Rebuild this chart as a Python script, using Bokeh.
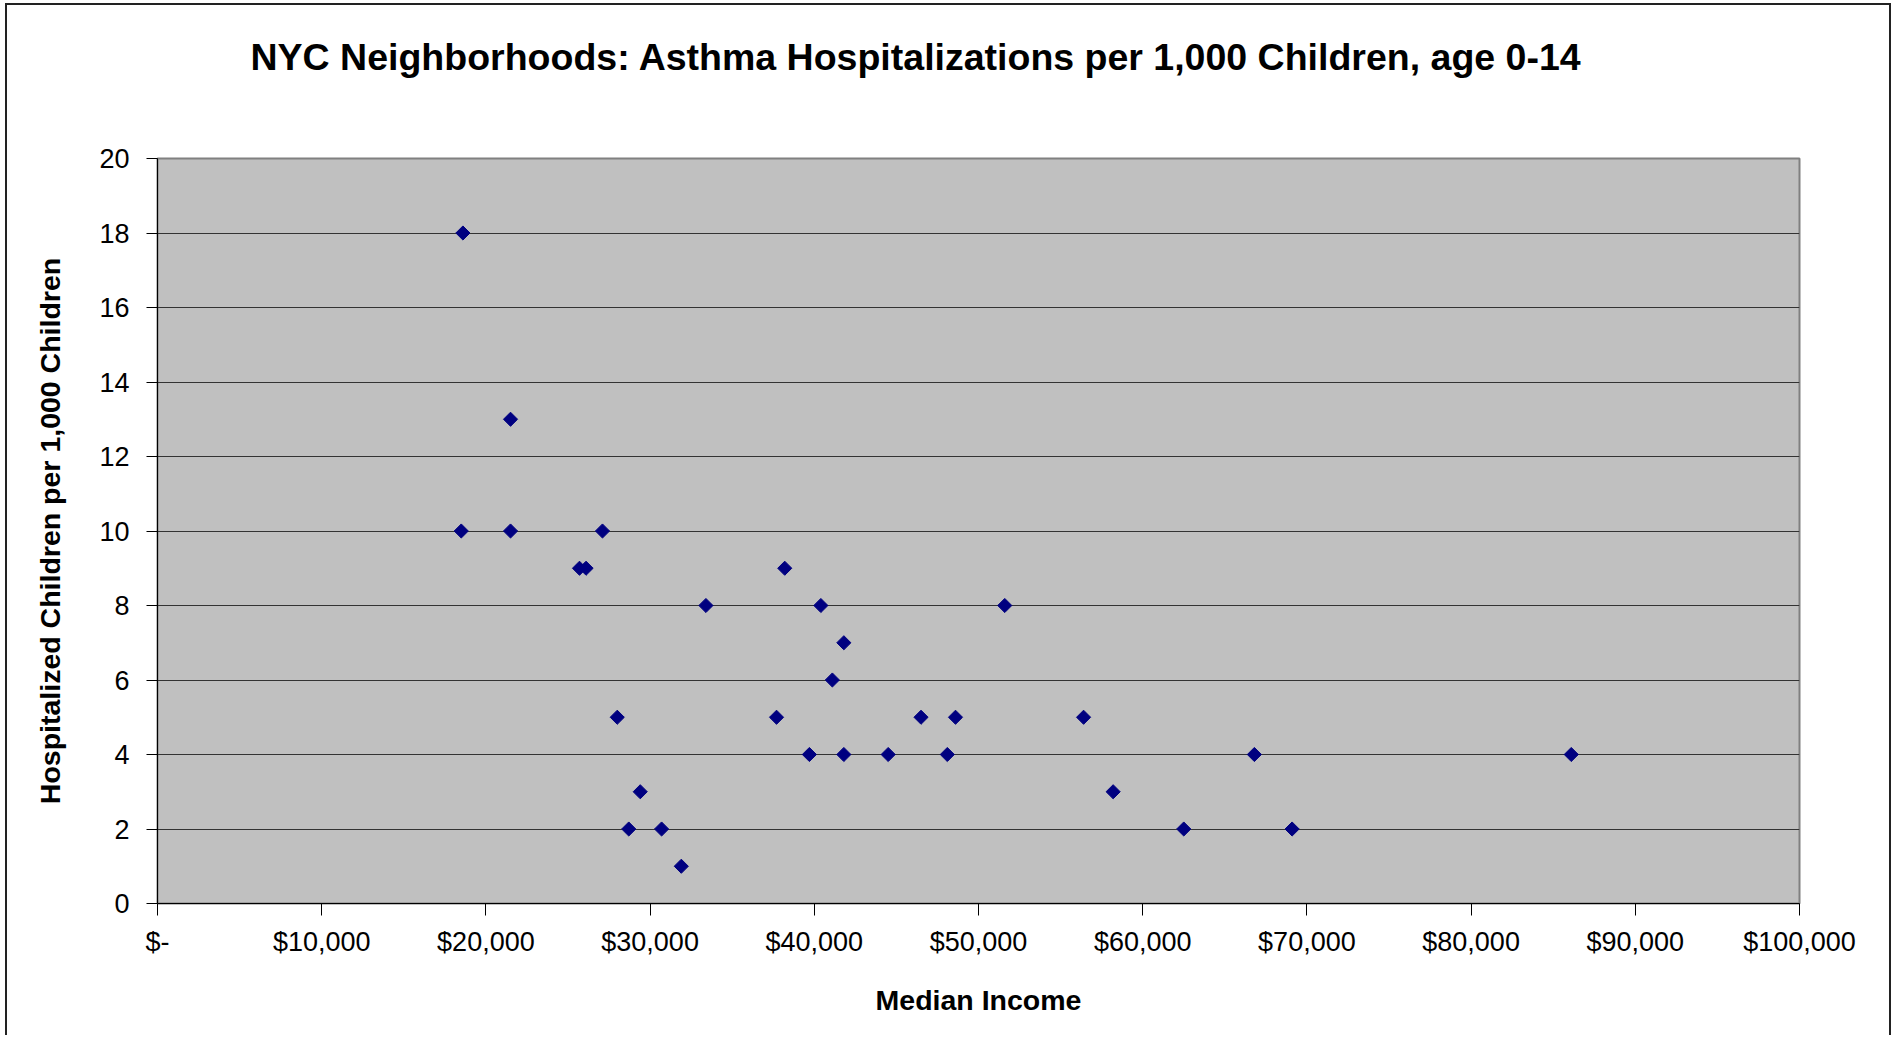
import math
from bokeh.plotting import figure
from bokeh.models import Range1d, FixedTicker, ColumnDataSource, Title
from bokeh.embed import file_html
from bokeh.resources import INLINE

# ---- data ----
median_income = [18600, 18500, 21500, 21500, 27100, 25700, 26100, 33400, 38200, 40400,
                 41800, 41100, 51600, 28000, 37700, 46500, 48600, 56400, 39700, 41800,
                 44500, 48100, 66800, 86100, 29400, 58200, 28700, 30700, 62500, 69100, 31900]
hospitalized = [18, 10, 13, 10, 10, 9, 9, 8, 9, 8,
                7, 6, 8, 5, 5, 5, 5, 5, 4, 4,
                4, 4, 4, 4, 3, 3, 2, 2, 2, 2, 1]

x_ticks = [0, 10000, 20000, 30000, 40000, 50000, 60000, 70000, 80000, 90000, 100000]
x_tick_labels = ["$-", "$10,000", "$20,000", "$30,000", "$40,000", "$50,000",
                 "$60,000", "$70,000", "$80,000", "$90,000", "$100,000"]
y_ticks = [0, 2, 4, 6, 8, 10, 12, 14, 16, 18, 20]

title_text = "NYC Neighborhoods: Asthma Hospitalizations per 1,000 Children, age 0-14"
x_title = "Median Income"
y_title = "Hospitalized Children per 1,000 Children"

FONT = "Liberation Sans"

p = figure(
    frame_width=1642, frame_height=745,
    min_border_left=150, min_border_right=90, min_border_top=153, min_border_bottom=132,
    x_range=Range1d(0, 100000), y_range=Range1d(0, 20),
    output_backend="svg", toolbar_location=None,
)
p.styles = {"margin-left": "5px", "margin-top": "3px",
            "border-left": "2px solid #222", "border-top": "2px solid #222",
            "border-right": "2px solid #222"}

p.background_fill_color = "#C0C0C0"
p.border_fill_color = "white"
p.outline_line_color = "#808080"
p.outline_line_width = 2

# title
p.title.text = title_text
p.title.text_font = FONT
p.title.text_font_size = "37.5px"
p.title.text_font_style = "bold"
p.title.text_color = "black"
p.title.align = "left"
p.title.offset = 93
p.title.standoff = 10

# blank spacer between the title and the plot area
p.add_layout(Title(text=" ", text_font_size="10px", standoff=63), "above")

# axes
p.xaxis.ticker = FixedTicker(ticks=x_ticks)
p.xaxis.major_label_overrides = {t: lab for t, lab in zip(x_ticks, x_tick_labels)}
p.yaxis.ticker = FixedTicker(ticks=y_ticks)
for ax in (p.xaxis[0], p.yaxis[0]):
    ax.axis_line_color = "black"
    ax.axis_line_width = 1
    ax.major_tick_line_color = "black"
    ax.major_tick_in = 0
    ax.minor_tick_line_color = None
    ax.major_label_text_font = FONT
    ax.major_label_text_font_size = "27px"
    ax.major_label_text_color = "black"
    ax.axis_label_text_font = FONT
    ax.axis_label_text_font_size = "28.5px"
    ax.axis_label_text_font_style = "bold"
    ax.axis_label_text_color = "black"
p.xaxis.major_tick_out = 12
p.xaxis.major_label_standoff = 11
p.yaxis.major_tick_out = 11
p.yaxis.major_label_standoff = 17
p.xaxis.axis_label = x_title
p.yaxis.axis_label = y_title
p.xaxis.axis_label_standoff = 24
p.yaxis.axis_label_standoff = 30

p.xgrid.grid_line_color = None
p.ygrid.ticker = FixedTicker(ticks=y_ticks)
p.ygrid.grid_line_color = "#333333"
p.ygrid.grid_line_width = 1

src = ColumnDataSource(dict(x=median_income, y=hospitalized))
p.scatter("x", "y", source=src, marker="square", angle=math.pi / 4, size=10,
          fill_color="#000080", line_color="#000080")

open("out.html", "w").write(file_html(p, INLINE))
